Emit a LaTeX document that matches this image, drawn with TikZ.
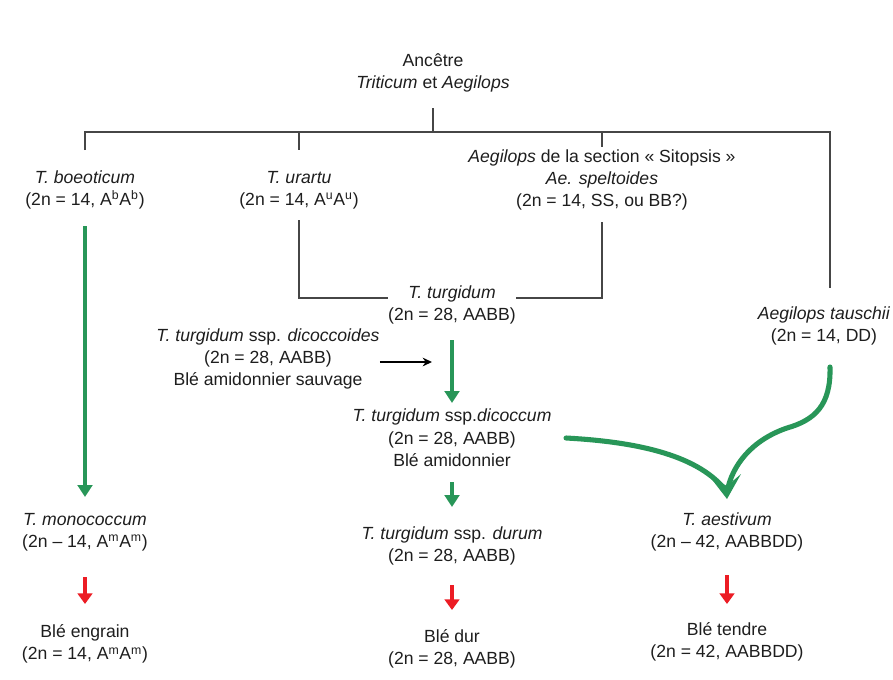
\documentclass[tikz,border=0pt]{standalone}
\usepackage{fontspec}
\setmainfont{Liberation Sans}
\usetikzlibrary{arrows.meta}
\definecolor{gr}{RGB}{40,150,88}
\definecolor{rd}{RGB}{236,28,36}
\definecolor{tx}{RGB}{30,30,30}
\definecolor{ln}{RGB}{70,70,70}
\begin{document}
\begin{tikzpicture}[x=0.75pt,y=-0.75pt,
  txt/.style={align=center,inner sep=0pt,text=tx,font=\fontsize{13.2}{16.8}\selectfont},
  tree/.style={draw=ln,line width=1.3pt},
  blk/.style={draw=black,line width=1.2pt,-{Stealth[length=7pt,width=6.5pt]}},
  garrow/.style={draw=gr,line width=2.6pt,-{Triangle[length=9pt,width=11pt]}},
  glong/.style={draw=gr,line width=3pt,-{Triangle[length=9pt,width=11pt]}},
  rarrow/.style={draw=rd,line width=3pt,-{Triangle[length=8pt,width=11pt]}},
  gcurve/.style={draw=gr,line width=3.8pt,line cap=round},
]
\useasboundingbox (0,0) rectangle (893,679);
\fill[white] (0,0) rectangle (893,679);

\node[txt] (anc) at (433,73) {Ancêtre\\\textit{Triticum} et \textit{Aegilops}};
\node[txt] (boe) at (85,190) {\textit{T. boeoticum}\\(2n = 14, A\textsuperscript{b}A\textsuperscript{b})};
\node[txt] (ura) at (299,190) {\textit{T. urartu}\\(2n = 14, A\textsuperscript{u}A\textsuperscript{u})};
\node[txt] (sit) at (602,180) {\textit{Aegilops} de la section « Sitopsis »\\\textit{Ae. speltoides}\\(2n = 14, SS, ou BB?)};
\node[txt] (tur) at (452,305) {\textit{T. turgidum}\\(2n = 28, AABB)};
\node[txt] (dco) at (268,359) {\textit{T. turgidum} ssp. \textit{dicoccoides}\\(2n = 28, AABB)\\Blé amidonnier sauvage};
\node[txt] (dic) at (452,438) {\textit{T. turgidum} ssp.\textit{dicoccum}\\(2n = 28, AABB)\\Blé amidonnier};
\node[txt] (tau) at (824,326) {\textit{Aegilops tauschii}\\(2n = 14, DD)};
\node[txt] (mon) at (85,532) {\textit{T. monococcum}\\(2n – 14, A\textsuperscript{m}A\textsuperscript{m})};
\node[txt] (dur) at (452,546) {\textit{T. turgidum} ssp. \textit{durum}\\(2n = 28, AABB)};
\node[txt] (aes) at (727,532) {\textit{T. aestivum}\\(2n – 42, AABBDD)};
\node[txt] (eng) at (85,644) {Blé engrain\\(2n = 14, A\textsuperscript{m}A\textsuperscript{m})};
\node[txt] (bdu) at (452,649) {Blé dur\\(2n = 28, AABB)};
\node[txt] (ten) at (727,642) {Blé tendre\\(2n = 42, AABBDD)};

% tree
\coordinate (tr) at (830,132);
\coordinate (trb) at (830,288);
\draw[tree] (anc.south |- 0,108) -- (anc.south |- 0,132);
\draw[tree] (boe.north |- 0,150) |- (tr) -- (trb);
\draw[tree] (ura.north |- 0,132) -- (ura.north |- 0,150);
\draw[tree] (sit.north |- 0,132) -- (sit.north |- 0,147);
\draw[tree] (ura.south |- 0,220) |- (tur.west |- 337,298);
\draw[tree] (sit.south |- 0,222) |- (tur.east |- 563,298);

% arrows
\draw[blk] (dco.east |- 0,362) -- ([xshift=-15pt]tur.south |- 0,362);
\draw[glong] (boe.south |- 0,226) -- (mon.north |- 0,497);
\draw[garrow] (tur.south |- 0,340) -- (dic.north |- 0,403);
\draw[garrow] (dic.south |- 0,482) -- (dur.north |- 0,507);
\draw[rarrow] (mon.south |- 0,577) -- (eng.north |- 0,604);
\draw[rarrow] (dur.south |- 0,585) -- (bdu.north |- 0,610);
\draw[rarrow] (aes.south |- 0,575) -- (ten.north |- 0,604);

% merge
\coordinate (c1) at (566,438);
\coordinate (c2) at (830,367);
\coordinate (m) at (727,492);
\draw[gcurve] (c1) .. controls (640,442) and (700,456) .. (m);
\draw[gcurve] (c2) .. controls (831,405) and (815,420) .. (787,428)
  .. controls (752,440) and (732,465) .. (m);
\fill[gr] (727,499) -- (710,477) -- (727,486) -- (741,474) -- cycle;
\end{tikzpicture}
\end{document}
